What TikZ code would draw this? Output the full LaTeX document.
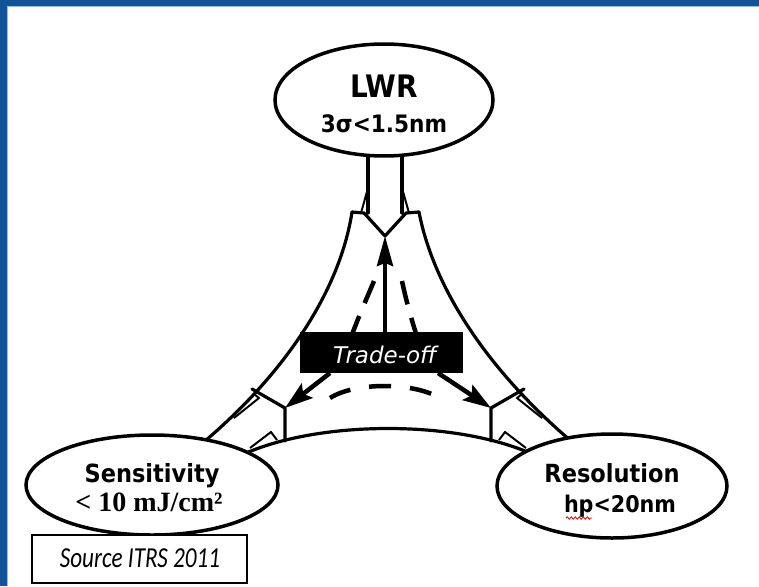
\documentclass[tikz,border=0pt]{standalone}
\usepackage{fontspec}
\usetikzlibrary{arrows.meta,decorations.pathmorphing,shapes.geometric}
\newfontfamily\headfont[FakeStretch=0.9]{DejaVu Sans}
\newfontfamily\serffont{Liberation Serif}
\newfontfamily\obqfont{DejaVu Sans}
\newfontfamily\srcfont[FakeStretch=0.8]{Carlito}
\definecolor{frameblue}{RGB}{18,82,150}
\definecolor{framelight}{RGB}{150,190,225}
\pgfdeclarelayer{back}
\pgfdeclarelayer{bg}
\pgfsetlayers{back,bg,main}
\begin{document}
\begin{tikzpicture}[x=1pt,y=-1pt,
  ell/.style={draw, line width=3.5pt, fill=white, ellipse, inner sep=0pt},
  outl/.style={line width=3.2pt, line join=round, line cap=round},
  thinl/.style={line width=2pt, line join=round},
  tarrow/.style={line width=4.5pt, -{Stealth[length=28pt,width=18pt,inset=5pt]}},
  uparrow/.style={line width=4pt, -{Stealth[length=30pt,width=16pt,inset=3pt]}},
  dashl/.style={line width=4.5pt, dash pattern=on 24pt off 14pt},
  headtxt/.style={anchor=base, inner sep=0pt, font=\headfont\bfseries\fontsize{25}{30}\selectfont},
  subtxt/.style={anchor=base, inner sep=0pt, font=\headfont\bfseries\fontsize{23}{28}\selectfont},
]
\useasboundingbox (0,0) rectangle (759,586);
\begin{pgfonlayer}{back}
\fill[white] (0,0) rectangle (759,586);
\fill[frameblue] (0,0) rectangle (759,6);
\fill[frameblue] (0,0) rectangle (7,586);
\draw[framelight, line width=1pt] (7.5,586) -- (7.5,6.5) -- (759,6.5);
\end{pgfonlayer}

% ellipses
\node[ell, minimum width=218pt, minimum height=112pt] (lwr) at (384,100) {};
\node[ell, minimum width=252pt, minimum height=100pt] (sen) at (152,485) {};
\node[ell, minimum width=230pt, minimum height=104pt] (res) at (612,486) {};

\node[headtxt, font=\headfont\bfseries\fontsize{31}{36}\selectfont] (lwrT1) at (384,97) {LWR};
\node[subtxt, font=\headfont\bfseries\fontsize{24}{28}\selectfont] (lwrT2) at (384,132) {3σ<1.5nm};
\node[headtxt] (senT1) at (152,482) {Sensitivity};
\node[anchor=base, inner sep=0pt, font=\serffont\bfseries\fontsize{28}{32}\selectfont] (senT2) at (149,511) {< 10 mJ/cm²};
\node[headtxt] (resT1) at (612,482) {Resolution};
\node[subtxt] (resT2) at (620,512) {hp<20nm};
\draw[red!85!black, line width=0.8pt, decorate, decoration={snake, amplitude=1.2pt, segment length=4pt}] (566,518) -- (592,518);

% key points
\coordinate (tA) at (385,236);
\coordinate (lA) at (285,408);
\coordinate (rA) at (491,408);

\begin{pgfonlayer}{bg}
% top vertex
\draw[outl] (368,150) -- (368,213);
\draw[outl] (402,150) -- (402,213);
\draw[thinl] (368,188) -- (361,213);
\draw[thinl] (402,188) -- (409,213);
\draw[outl] (352,212) -- (364,213) -- (tA) -- (406,213) -- (419,212);
% outer curves
\draw[outl] (352,212) .. controls (340,290) and (286,372) .. (205,441);
\draw[outl] (419,212) .. controls (434,290) and (490,372) .. (571,441);
\draw[outl] (244,454) .. controls (320,420) and (456,420) .. (532,454);
% left vertex
\draw[outl] (252,389) -- (lA) -- (285,441);
\draw[thinl] (234,418) -- (259,398) -- (254,394);
\draw[thinl] (250,448) -- (271,432) -- (277,440);
% right vertex
\draw[outl] (524,389) -- (rA) -- (491,441);
\draw[thinl] (542,418) -- (517,398) -- (522,394);
\draw[thinl] (526,448) -- (505,432) -- (499,440);
\end{pgfonlayer}

% inner dashed concave triangle
\draw[dashl] (374,281) .. controls (366,300) and (358,318) .. (350,340);
\draw[dashl] (402,281) .. controls (406,300) and (411,318) .. (418,340);
\draw[dashl, dash pattern=on 22pt off 19pt] (330,398) .. controls (355,382) and (413,382) .. (440,398);

% trade-off box
\node[fill=black, minimum width=163pt, minimum height=41pt, inner sep=0pt] (tbox) at (381.5,352.5) {};
\node[anchor=base, inner sep=0pt, text=white, font=\obqfont\itshape\fontsize{23}{28}\selectfont] (ttxt) at (385,363) {Trade-off};

% thick arrows
\draw[uparrow] (tbox.north -| tA) -- (tA);
\draw[tarrow] (330,373) -- (lA);
\draw[tarrow] (438,373) -- (rA);

% source box
\node[draw, line width=1.5pt, fill=white, minimum width=215pt, minimum height=48pt, inner sep=0pt] (srcbox) at (139.5,559) {};
\node[anchor=base, inner sep=0pt, font=\srcfont\itshape\fontsize{29}{34}\selectfont] (srctxt) at (140,567) {Source ITRS 2011};
\end{tikzpicture}
\end{document}
